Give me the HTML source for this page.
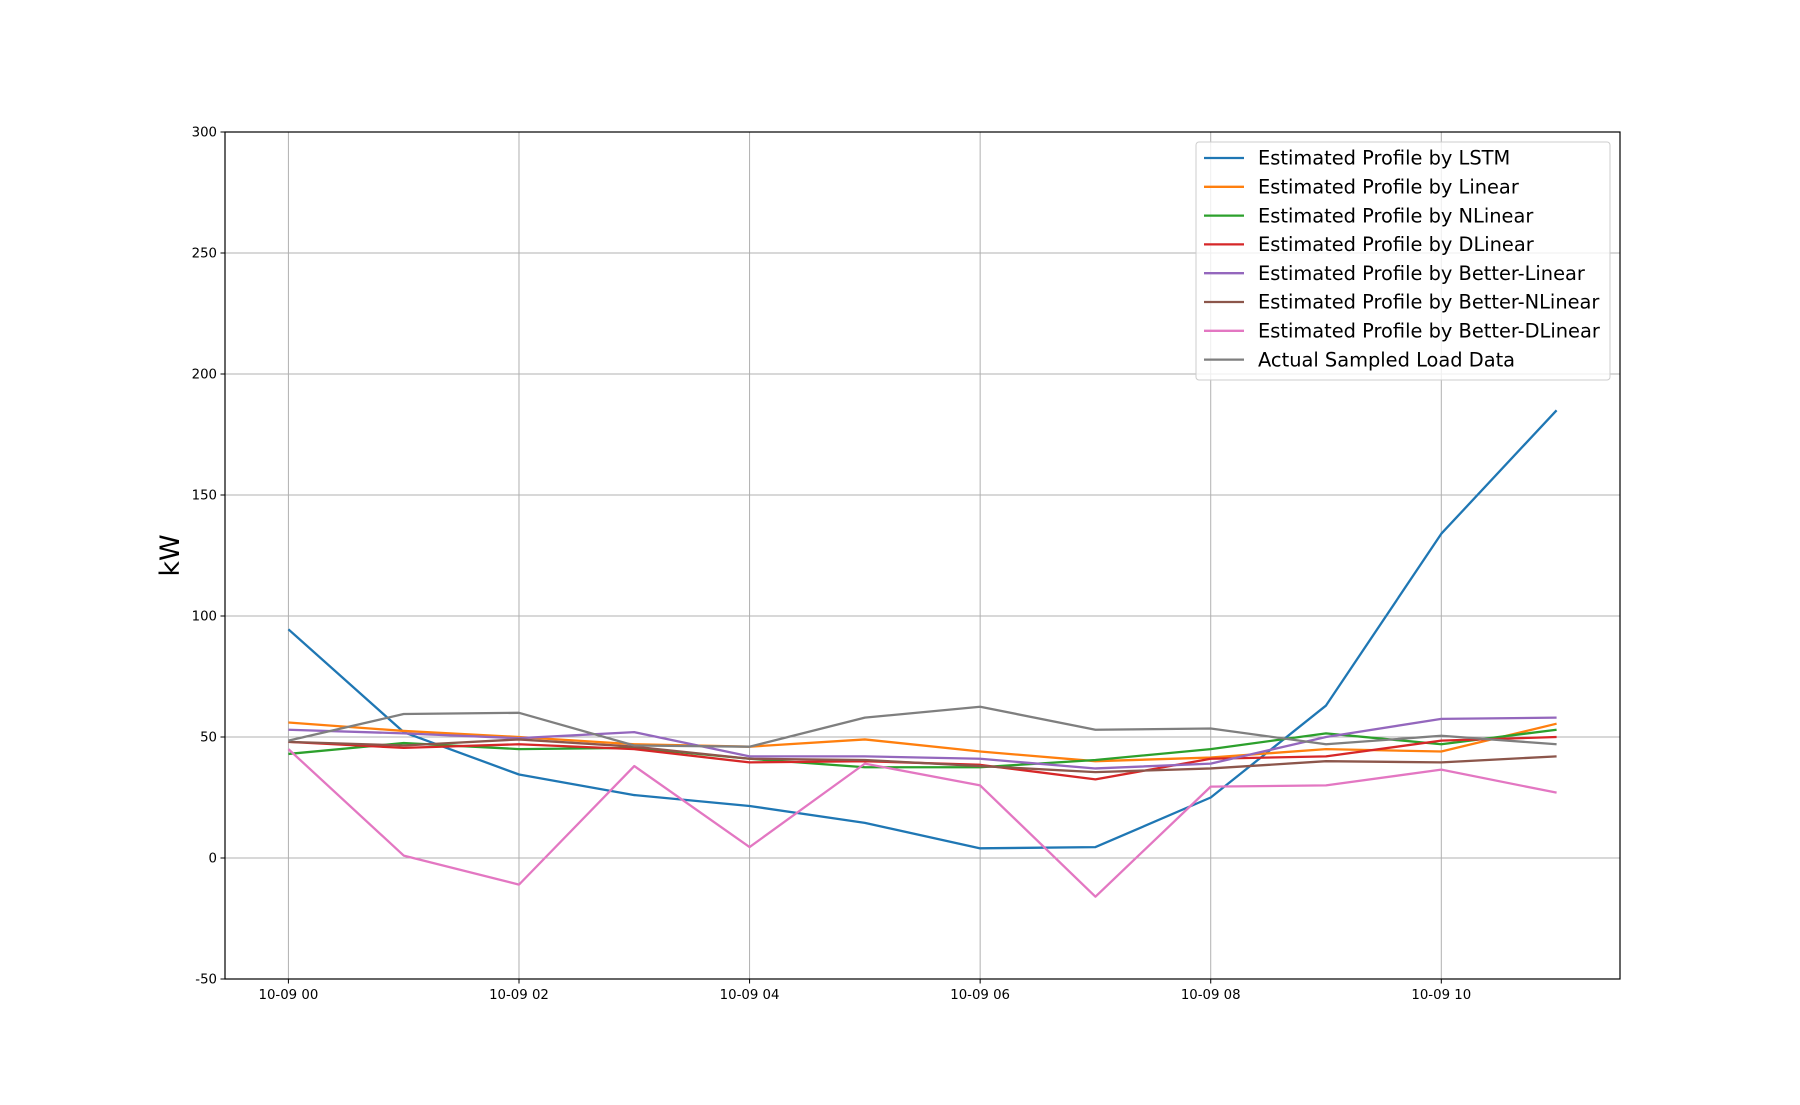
<!DOCTYPE html>
<html><head><meta charset="utf-8"><style>
body{margin:0;background:#fff}
svg text{font-family:"DejaVu Sans","Liberation Sans",sans-serif}
</style></head><body>
<svg id="chart" width="1800" height="1100" xmlns="http://www.w3.org/2000/svg">
<rect width="1800" height="1100" fill="#fff"/>
<g id="grid"></g><g id="series"></g><g id="axes"></g><g id="legend"></g>
</svg>
<script>
const hours = [0,1,2,3,4,5,6,7,8,9,10,11];
const xTicks = [0,2,4,6,8,10];
const xTickLabels = ["10-09 00","10-09 02","10-09 04","10-09 06","10-09 08","10-09 10"];
const yTicks = [-50,0,50,100,150,200,250,300];
const seriesNames = ["Estimated Profile by LSTM","Estimated Profile by Linear","Estimated Profile by NLinear","Estimated Profile by DLinear","Estimated Profile by Better-Linear","Estimated Profile by Better-NLinear","Estimated Profile by Better-DLinear","Actual Sampled Load Data"];
const lstm = [94.5,52,34.5,26,21.5,14.5,4,4.5,25,63,134,185];
const linear = [56,52.5,50,47,46,49,44,40,41.5,45,44,55.5];
const nlinear = [43,47.5,45,45.5,41,37.5,37.5,40.5,45,51.5,47,53];
const dlinear = [48,45.5,47,45,39.5,40,38.5,32.5,41,42,48.5,50];
const betterLinear = [53,51.5,49.5,52,42,42,41,37,39,50,57.5,58];
const betterNLinear = [48,46.5,49,46,41,40.5,38,35.5,37,40,39.5,42];
const betterDLinear = [45,1,-11,38,4.5,39,30,-16,29.5,30,36.5,27];
const actual = [48.5,59.5,60,46.5,46,58,62.5,53,53.5,47,50.5,47];
const allSeries = [lstm,linear,nlinear,dlinear,betterLinear,betterNLinear,betterDLinear,actual];
const colors = ["#1f77b4","#ff7f0e","#2ca02c","#d62728","#9467bd","#8c564b","#e377c2","#7f7f7f"];

const L=225,R=1620,T=132,B=979;
const xMin=-0.55,xMax=11.55,yMin=-50,yMax=300;
const X=v=>L+(v-xMin)/(xMax-xMin)*(R-L);
const Y=v=>B-(v-yMin)/(yMax-yMin)*(B-T);
const NS="http://www.w3.org/2000/svg";
function mk(tag,attrs,parent,text){const e=document.createElementNS(NS,tag);for(const k in attrs)e.setAttribute(k,attrs[k]);if(text!==undefined)e.textContent=text;parent.appendChild(e);return e;}
const grid=document.getElementById('grid'),axes=document.getElementById('axes'),ser=document.getElementById('series'),leg=document.getElementById('legend');

xTicks.forEach((t,i)=>{
  const g=mk('line',{x1:X(t),x2:X(t),y1:T,y2:B,stroke:'#b0b0b0','stroke-width':1},grid);
  
  
  mk('line',{x1:X(t),x2:X(t),y1:B,y2:B+4.5,stroke:'#000','stroke-width':1},axes);
  const tx=mk('text',{x:X(t),y:B+20,'font-size':13.3,'text-anchor':'middle'},axes,xTickLabels[i]);
  
  
});
yTicks.forEach(t=>{
  const g=mk('line',{x1:L,x2:R,y1:Y(t),y2:Y(t),stroke:'#b0b0b0','stroke-width':1},grid);
  
  
  mk('line',{x1:L-4.5,x2:L,y1:Y(t),y2:Y(t),stroke:'#000','stroke-width':1},axes);
  const tx=mk('text',{x:L-8,y:Y(t)+4.5,'font-size':13.3,'text-anchor':'end'},axes,String(t));
  
  
});
const frame=mk('rect',{x:L,y:T,width:R-L,height:B-T,fill:'none',stroke:'#000','stroke-width':1.2},axes);


const yl=mk('text',{x:0,y:0,'font-size':27,'text-anchor':'middle',transform:`translate(179,${(T+B)/2}) rotate(-90)`},axes,'kW');



allSeries.forEach((s,i)=>{
  const p=mk('polyline',{points:s.map((v,j)=>X(hours[j])+','+Y(v)).join(' '),fill:'none',stroke:colors[i],'stroke-width':2.3,'stroke-linejoin':'round'},ser);
  
  
});

const box=mk('rect',{x:1196,y:142,width:414,height:238,rx:3,fill:'#fff','fill-opacity':0.8,stroke:'#ccc','stroke-width':1},leg);


seriesNames.forEach((n,i)=>{
  const y=158+i*28.8;
  const ln=mk('line',{x1:1204,x2:1244,y1:y,y2:y,stroke:colors[i],'stroke-width':2.3},leg);
  
  
  const t=mk('text',{x:1258,y:y+6.7,'font-size':19.4},leg,n);
  
  
});
</script>
</body></html>
